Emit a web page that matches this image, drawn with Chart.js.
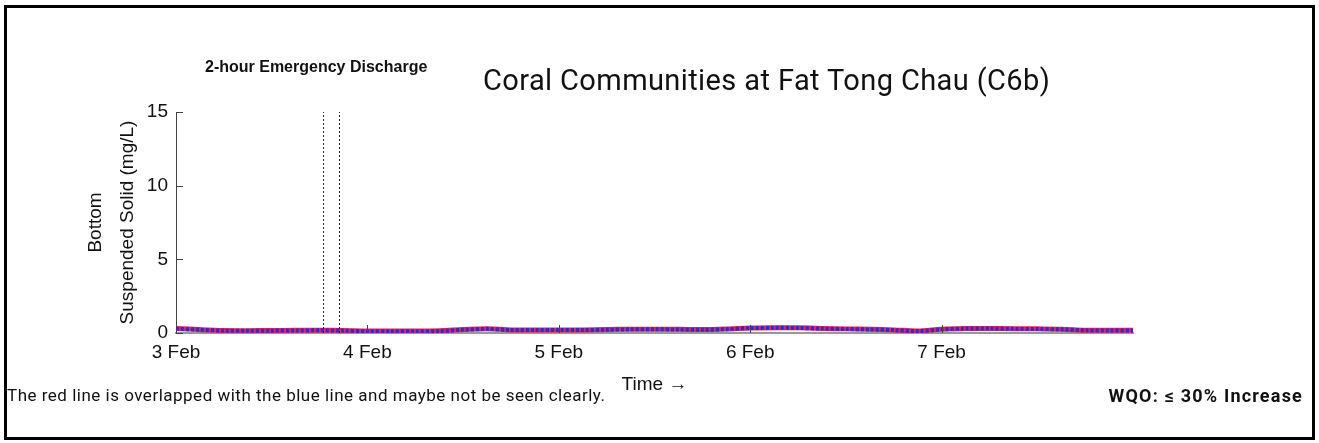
<!DOCTYPE html>
<html lang="en">
<head>
  <meta charset="UTF-8" />
  <title>Coral Communities at Fat Tong Chau (C6b)</title>
  <script src="https://cdn.jsdelivr.net/npm/chart.js"></script>
  <style>
    * { box-sizing: border-box; margin: 0; padding: 0; }
    body { background: #fff; width: 1319px; height: 443px; overflow: hidden; }
    #wrap { position: relative; width: 1319px; height: 443px; }
    #c { position: absolute; left: 0; top: 0; }
    .frame {
      position: absolute; left: 4px; top: 5px; width: 1311px; height: 435px;
      border: 3px solid #000; pointer-events: none;
    }
    .txt { position: absolute; white-space: nowrap; color: #111; line-height: 1; }
    #title { left: 483px; top: 63px; font: 29px 'Roboto', sans-serif; letter-spacing: 0.4px; }
    #discharge { left: 205px; top: 58px; font: bold 16px 'Liberation Sans', Arial, sans-serif; }
    #note { left: 7px; top: 385px; font: 17px 'Roboto', sans-serif; letter-spacing: 0.5px; }
    #wqo { right: 16px; top: 385px; font: bold 18px 'Roboto', sans-serif; letter-spacing: 1.2px; }
  </style>
</head>
<body>
  <div id="wrap">
    <canvas id="c" width="1319" height="443"></canvas>
    <div class="frame"></div>
    <div class="txt" id="title">Coral Communities at Fat Tong Chau (C6b)</div>
    <div class="txt" id="discharge">2-hour Emergency Discharge</div>
    <div class="txt" id="note">The red line is overlapped with the blue line and maybe not be seen clearly.</div>
    <div class="txt" id="wqo">WQO: ≤ 30% Increase</div>
  </div>

  <script>
    // hours since 3 Feb 00:00, every 3 hours
    const hours = [0, 3, 6, 9, 12, 15, 18, 21,
                   24, 27, 30, 33, 36, 39, 42, 45,
                   48, 51, 54, 57, 60, 63, 66, 69,
                   72, 75, 78, 81, 84, 87, 90, 93,
                   96, 99, 102, 105, 108, 111, 114, 117, 120];
    // suspended solids, mg/L
    const blueSS = [0.30, 0.22, 0.16, 0.15, 0.16, 0.17, 0.18, 0.16,
                    0.12, 0.12, 0.12, 0.14, 0.22, 0.28, 0.20, 0.20,
                    0.20, 0.20, 0.22, 0.25, 0.25, 0.24, 0.22, 0.26,
                    0.33, 0.35, 0.34, 0.30, 0.27, 0.24, 0.20, 0.13,
                    0.25, 0.30, 0.30, 0.28, 0.27, 0.25, 0.18, 0.17, 0.17];
    const redSS  = [0.31, 0.23, 0.17, 0.16, 0.17, 0.18, 0.19, 0.17,
                    0.13, 0.13, 0.13, 0.15, 0.23, 0.29, 0.21, 0.21,
                    0.21, 0.21, 0.23, 0.26, 0.26, 0.25, 0.23, 0.27,
                    0.34, 0.36, 0.35, 0.31, 0.28, 0.25, 0.21, 0.14,
                    0.26, 0.31, 0.31, 0.29, 0.28, 0.26, 0.19, 0.18, 0.18];
    const dayLabels = ['3 Feb', '4 Feb', '5 Feb', '6 Feb', '7 Feb', ''];
    const yTicks = [0, 5, 10, 15];
    const dischargeHours = [18.5, 20.5];

    const pts = arr => hours.map((h, i) => ({ x: h, y: arr[i] }));
    const vline = h => ({
      data: [{ x: h, y: 0 }, { x: h, y: 15 }],
      borderColor: '#222', borderWidth: 1, borderDash: [2, 2],
      pointRadius: 0, fill: false, order: 0
    });

    // short tick marks pointing into the plot
    const innerTicks = {
      id: 'innerTicks',
      afterDatasetsDraw(chart) {
        const { ctx, chartArea: a, scales: { x, y } } = chart;
        ctx.save();
        ctx.strokeStyle = '#444';
        ctx.lineWidth = 1;
        ctx.beginPath();
        yTicks.forEach(v => {
          const py = Math.round(y.getPixelForValue(v)) + 0.5;
          ctx.moveTo(a.left, py); ctx.lineTo(a.left + 7, py);
        });
        for (let d = 1; d < dayLabels.length - 1; d++) {
          const px = Math.round(x.getPixelForValue(d * 24)) + 0.5;
          ctx.moveTo(px, a.bottom); ctx.lineTo(px, a.bottom - 8);
        }
        ctx.stroke();
        ctx.restore();
      }
    };

    const font = { family: "'Liberation Sans', Arial, sans-serif", size: 19 };

    new Chart(document.getElementById('c'), {
      type: 'line',
      data: {
        datasets: [
          vline(dischargeHours[0]),
          vline(dischargeHours[1]),
          { label: 'Blue', data: pts(blueSS), borderColor: '#2a2ad6', borderWidth: 4,
            borderDash: [3, 2], pointRadius: 0, tension: 0.3, order: 1 },
          { label: 'Red', data: pts(redSS), borderColor: '#e0245e', borderWidth: 5,
            pointRadius: 0, tension: 0.3, order: 2 }
        ]
      },
      options: {
        responsive: false,
        animation: false,
        layout: { padding: { left: 0, top: 112, right: 186, bottom: 0 } },
        plugins: { legend: { display: false }, tooltip: { enabled: false } },
        scales: {
          x: {
            type: 'linear', min: 0, max: 120,
            afterFit: s => { s.height = 110; },
            grid: { display: false, drawTicks: false },
            border: { display: true, color: '#999', width: 2 },
            ticks: {
              stepSize: 24, padding: 8, color: '#111', font, maxRotation: 0,
              callback: v => dayLabels[v / 24]
            },
            title: { display: true, text: 'Time \u2192', color: '#111', font,
                     padding: { top: 0, bottom: 47 } }
          },
          y: {
            min: 0, max: 15,
            afterFit: s => { s.width = 176; },
            grid: { display: false, drawTicks: false },
            border: { display: true, color: '#444', width: 1 },
            afterBuildTicks: s => { s.ticks = yTicks.map(v => ({ value: v })); },
            ticks: { padding: 8, color: '#111', font },
            title: { display: true, text: ['Bottom', 'Suspended Solid (mg/L)'], color: '#111',
                     font: { ...font, lineHeight: 32 / 19 }, padding: { top: 80, bottom: 0 } }
          }
        }
      },
      plugins: [innerTicks]
    });
  </script>
</body>
</html>
